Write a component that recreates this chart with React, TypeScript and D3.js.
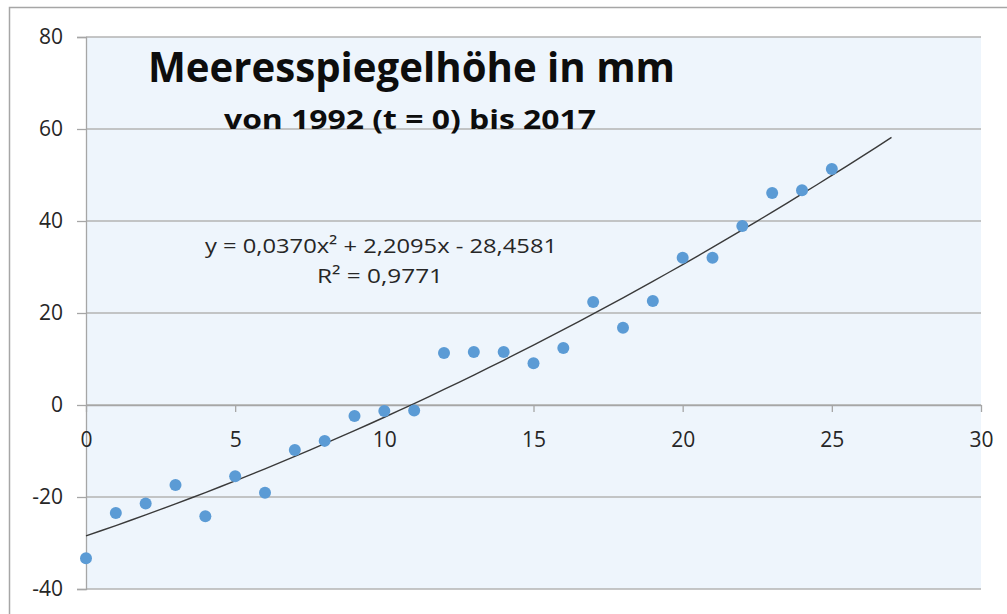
import React, { useEffect, useRef } from 'react'
import * as d3 from 'd3'

// t = Jahre seit 1992
const years = [0, 1, 2, 3, 4, 5, 6, 7, 8, 9, 10, 11, 12, 13, 14, 15, 16, 17, 18, 19, 20, 21, 22, 23, 24, 25]
const levels = [-33.3, -23.5, -21.4, -17.4, -24.2, -15.5, -19.1, -9.8, -7.8, -2.4, -1.3, -1.2, 11.3, 11.5, 11.5, 9.1, 12.4, 22.4, 16.8, 22.6, 32.0, 32.0, 38.9, 46.1, 46.7, 51.3]
const xTicks = [0, 5, 10, 15, 20, 25, 30]
const yTicks = [-40, -20, 0, 20, 40, 60, 80]
// Trendlinie (Polynom 2. Ordnung) wie im Diagramm angegeben
const trendCoef = [-28.4581, 2.2095, 0.0370]
const trendRange = [0, 27]

const title = 'Meeresspiegelhöhe in mm'
const subtitle = 'von 1992 (t = 0) bis 2017'
const equation = 'y = 0,0370x² + 2,2095x - 28,4581'
const rSquared = 'R² = 0,9771'

const width = 1007
const height = 614
const margin = { top: 37, right: 26, bottom: 25, left: 86 }
const font = '"Open Sans", "Noto Sans", sans-serif'

const App = () => {
  const ref = useRef<SVGSVGElement>(null)

  useEffect(() => {
    const svg = d3.select(ref.current)
    svg.selectAll('*').remove()

    const x = d3.scaleLinear()
      .domain([0, 30])
      .range([margin.left, width - margin.right])

    const y = d3.scaleLinear()
      .domain([-40, 80])
      .range([height - margin.bottom, margin.top])

    // outer frame
    svg.append('path')
      .attr('d', `M9.5,${height} V7.5 H${width}`)
      .attr('fill', 'none')
      .attr('stroke', '#a6a6a6')
      .attr('stroke-width', 1.5)

    svg.append('rect')
      .attr('x', x(0))
      .attr('y', y(80))
      .attr('width', x(30) - x(0))
      .attr('height', y(-40) - y(80))
      .attr('fill', '#eef5fc')

    svg.append('g')
      .selectAll('line')
      .data(yTicks)
      .join('line')
      .attr('x1', x(0))
      .attr('x2', x(30))
      .attr('y1', d => y(d))
      .attr('y2', d => y(d))
      .attr('stroke', '#b3b3b3')
      .attr('stroke-width', 1.5)

    const fmt = d => String(d)

    const yAxis = g => g
      .attr('transform', `translate(${x(0)},0)`)
      .call(d3.axisLeft(y).tickValues(yTicks).tickSize(9).tickPadding(14).tickFormat(fmt))
      .call(g => g.selectAll('line, path').attr('stroke', '#a6a6a6').attr('stroke-width', 1.3))
      .call(g => g.selectAll('text')
        .attr('font-family', font)
        .attr('font-size', 21)
        .attr('fill', '#262626'))

    const xAxis = g => g
      .attr('transform', `translate(0,${y(0)})`)
      .call(d3.axisBottom(x).tickValues(xTicks).tickSize(7).tickSizeOuter(0).tickFormat(fmt))
      .call(g => g.selectAll('line, path').attr('stroke', '#a6a6a6').attr('stroke-width', 1.3))
      .call(g => g.selectAll('text')
        .attr('y', 42)
        .attr('dy', 0)
        .attr('font-family', font)
        .attr('font-size', 21)
        .attr('fill', '#262626'))

    svg.append('g').call(yAxis)
    svg.append('g').call(xAxis)

    // trend line
    const trend = d3.range(trendRange[0], trendRange[1] + 0.01, 0.5)
      .map(t => [t, trendCoef[0] + trendCoef[1] * t + trendCoef[2] * t * t])

    svg.append('path')
      .datum(trend)
      .attr('fill', 'none')
      .attr('stroke', '#3a3a3a')
      .attr('stroke-width', 1.4)
      .attr('d', d3.line().x(d => x(d[0])).y(d => y(d[1])))

    svg.append('g')
      .selectAll('circle')
      .data(years)
      .join('circle')
      .attr('cx', d => x(d))
      .attr('cy', (d, i) => y(levels[i]))
      .attr('r', 6)
      .attr('fill', '#5b9bd5')

    svg.append('text')
      .attr('x', 148)
      .attr('y', 82)
      .attr('font-family', font)
      .attr('font-weight', 700)
      .attr('font-size', 42)
      .attr('textLength', 527)
      .attr('lengthAdjust', 'spacingAndGlyphs')
      .attr('fill', '#0d0d0d')
      .text(title)

    svg.append('text')
      .attr('x', 224)
      .attr('y', 129)
      .attr('font-family', font)
      .attr('font-weight', 700)
      .attr('font-size', 27)
      .attr('textLength', 372)
      .attr('lengthAdjust', 'spacingAndGlyphs')
      .attr('fill', '#0d0d0d')
      .text(subtitle)

    svg.append('text')
      .attr('x', 205)
      .attr('y', 253)
      .attr('font-family', font)
      .attr('font-size', 20)
      .attr('textLength', 352)
      .attr('lengthAdjust', 'spacingAndGlyphs')
      .attr('fill', '#262626')
      .text(equation)

    svg.append('text')
      .attr('x', 317)
      .attr('y', 283)
      .attr('font-family', font)
      .attr('font-size', 20)
      .attr('textLength', 126)
      .attr('lengthAdjust', 'spacingAndGlyphs')
      .attr('fill', '#262626')
      .text(rSquared)
  }, [])

  return (
    <svg
      width={width}
      height={height}
      ref={ref}
      style={{ position: 'absolute', left: 0, top: 0, background: '#fff' }}
    />
  )
}

export default App
